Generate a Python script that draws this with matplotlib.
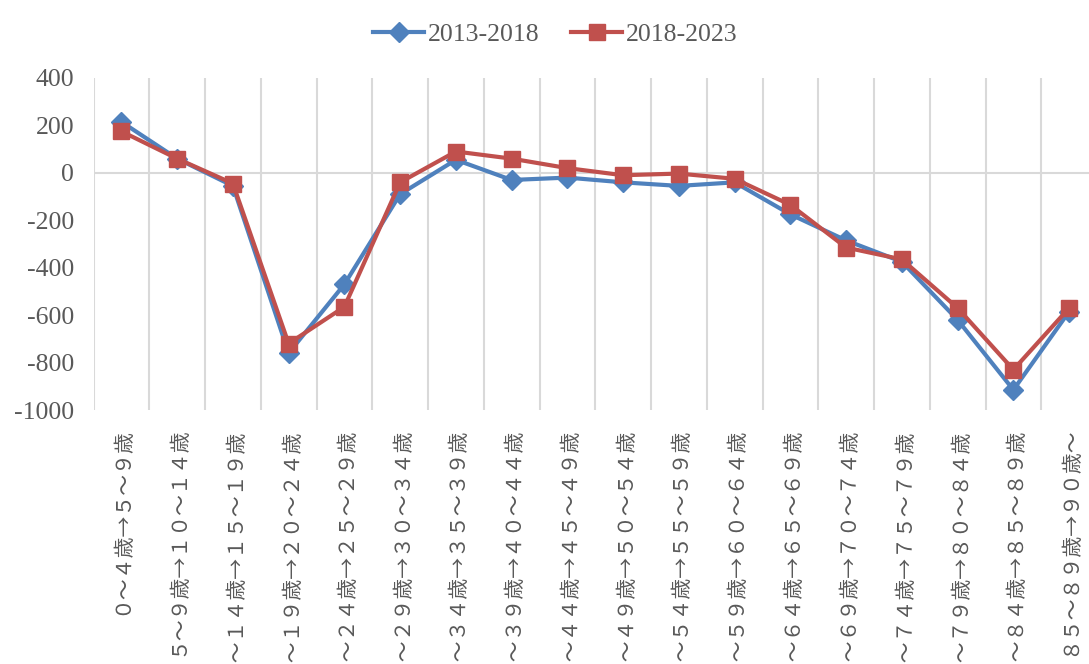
import matplotlib
matplotlib.use("Agg")
import matplotlib.pyplot as plt
import numpy as np

categories = ["０～４歳→５～９歳", "５～９歳→１０～１４歳", "１０～１４歳→１５～１９歳",
              "１５～１９歳→２０～２４歳", "２０～２４歳→２５～２９歳", "２５～２９歳→３０～３４歳",
              "３０～３４歳→３５～３９歳", "３５～３９歳→４０～４４歳", "４０～４４歳→４５～４９歳",
              "４５～４９歳→５０～５４歳", "５０～５４歳→５５～５９歳", "５５～５９歳→６０～６４歳",
              "６０～６４歳→６５～６９歳", "６５～６９歳→７０～７４歳", "７０～７４歳→７５～７９歳",
              "７５～７９歳→８０～８４歳", "８０～８４歳→８５～８９歳", "８５～８９歳→９０歳～"]
s2013_2018 = [215, 60, -55, -760, -470, -90, 55, -30, -20, -40, -55, -40, -175, -285, -375, -620, -915, -585]
s2018_2023 = [175, 60, -45, -720, -565, -40, 90, 60, 20, -10, -3, -25, -135, -315, -365, -570, -830, -570]
series_names = ["2013-2018", "2018-2023"]
yticks = [400, 200, 0, -200, -400, -600, -800, -1000]

serif = ["Liberation Serif", "Noto Sans CJK JP", "DejaVu Sans"]
cjk = ["Noto Sans CJK JP", "DejaVu Sans"]
txt_color = "#595959"
grid_color = "#D9D9D9"

fig = plt.figure(figsize=(10.89, 6.64), dpi=100)
ax = fig.add_axes([93.5 / 1089, 1 - 410 / 664, (1097 - 93.5) / 1089, (410 - 78) / 664])

n = len(categories)
x = np.arange(n)
ax.set_xlim(-0.5, n - 0.5)
ax.set_ylim(-1000, 400)

for b in np.arange(-0.5, n - 0.5, 1.0):
    ax.axvline(b, color=grid_color, lw=1.5, zorder=1)
ax.axhline(0, color=grid_color, lw=1.5, zorder=1)

ax.plot(x, s2013_2018, color="#4F81BD", lw=3, marker="D", ms=10, label=series_names[0], zorder=3)
ax.plot(x, s2018_2023, color="#C0504D", lw=3, marker="s", ms=11, label=series_names[1], zorder=4)

for s in ax.spines.values():
    s.set_visible(False)

ax.set_yticks(yticks)
ax.set_yticklabels([str(v) for v in yticks], fontfamily=serif, fontsize=18.5, color=txt_color)
ax.set_xticks(x)
ax.set_xticklabels(categories, rotation=90, fontfamily=cjk, fontsize=15, color=txt_color,
                   va="top", ha="center")
ax.tick_params(axis="both", length=0)
ax.tick_params(axis="x", pad=12)
ax.tick_params(axis="y", pad=14)

leg = fig.legend(loc="upper center", bbox_to_anchor=(0.51, 1.0), ncol=2, frameon=False,
                 prop={"family": serif, "size": 18.5}, handlelength=2.0, columnspacing=1.2,
                 handletextpad=0.15)
for t in leg.get_texts():
    t.set_color(txt_color)

fig.savefig("out.png", dpi=100)
